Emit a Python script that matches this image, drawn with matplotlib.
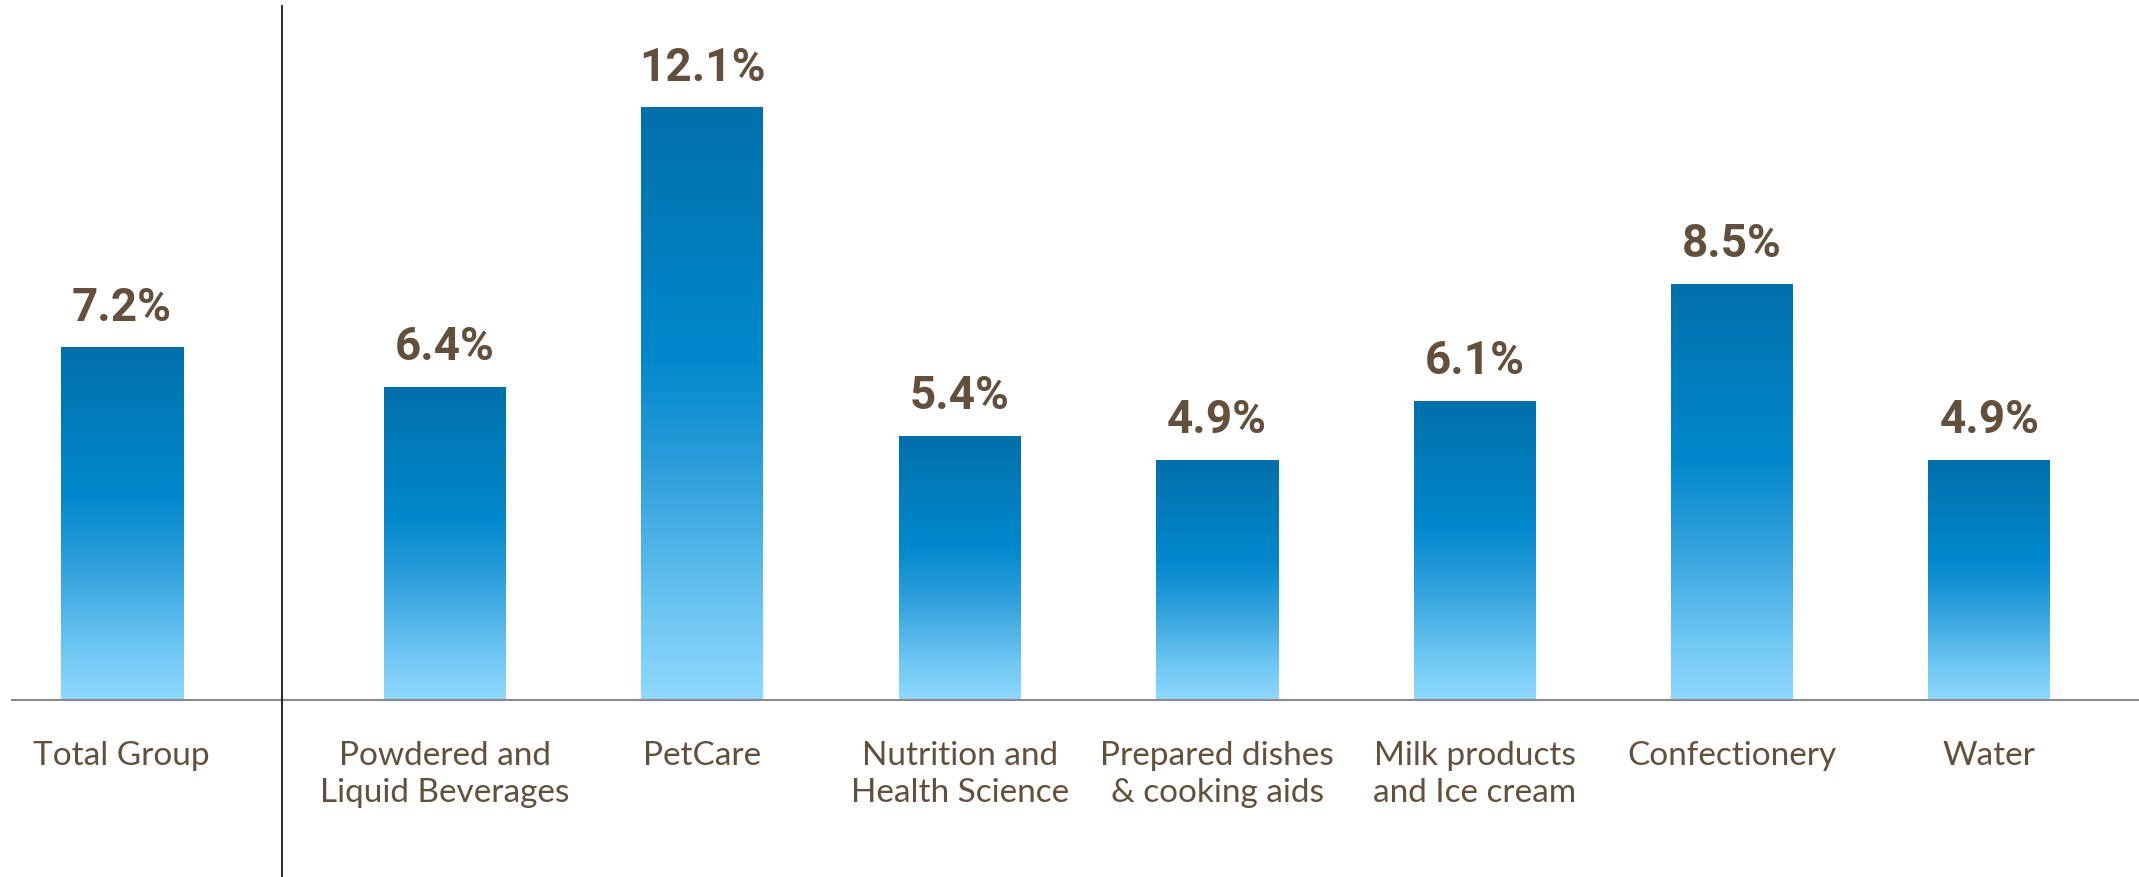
import numpy as np
import matplotlib
matplotlib.use("Agg")
import matplotlib.pyplot as plt
from matplotlib.colors import LinearSegmentedColormap

# ---- data ----
categories = ["Total Group", "Powdered and\nLiquid Beverages", "PetCare",
              "Nutrition and\nHealth Science", "Prepared dishes\n& cooking aids",
              "Milk products\nand Ice cream", "Confectionery", "Water"]
values = [7.2, 6.4, 12.1, 5.4, 4.9, 6.1, 8.5, 4.9]
value_labels = ["7.2%", "6.4%", "12.1%", "5.4%", "4.9%", "6.1%", "8.5%", "4.9%"]

# ---- layout ----
W, H, DPI = 2139, 878, 100
fig = plt.figure(figsize=(W / DPI, H / DPI), dpi=DPI)
ax = fig.add_axes([0, 0, 1, 1])
ax.set_axis_off()

spacing_px = 257.4
px_per_unit = 48.98
base_px = 701
first_px = 444.9
positions = [1 - 323.4 / spacing_px] + list(range(1, 8))
bar_w = 122 / spacing_px

def xpx(p):
    return (p - first_px) / spacing_px + 1

ax.set_xlim(xpx(0), xpx(W))
ax.set_ylim(-(H - base_px) / px_per_unit, base_px / px_per_unit)

text_col = "#63503c"
cmap = LinearSegmentedColormap.from_list(
    "g", [(0.0, "#0070ab"), (0.42, "#0088cc"), (0.6, "#2a9dda"),
          (0.85, "#6cc6f2"), (1.0, "#8fd9ff")])
grad = np.linspace(0, 1, 256).reshape(-1, 1)

bars = ax.bar(positions, values, width=bar_w, color="none", edgecolor="none", zorder=2)
for b, v, lab, cat in zip(bars, values, value_labels, categories):
    x0 = b.get_x()
    im = ax.imshow(grad, cmap=cmap, aspect="auto", extent=(x0, x0 + bar_w, 0, v),
                   origin="upper", zorder=2, interpolation="bilinear")
    im.set_clip_path(b)
    cx = x0 + bar_w / 2
    ax.annotate(lab, (cx, v), xytext=(0, 20), textcoords="offset points",
                ha="center", va="baseline", fontsize=33, fontweight="bold",
                family="Roboto", color=text_col)
    ax.annotate(cat, (cx, 0), xytext=(0, -28.5), textcoords="offset points",
                ha="center", va="top", fontsize=24, family="Lato",
                color=text_col, linespacing=1.32)

# baseline and divider
ax.plot([xpx(11), xpx(W)], [0, 0], color="#8a8a8a", lw=1.5, zorder=3,
        solid_capstyle="butt")
ax.plot([xpx(282), xpx(282)], [-(H - base_px) / px_per_unit, (base_px - 7) / px_per_unit],
        color="#2a2a2a", lw=1.4, zorder=3)

fig.savefig("out.png", dpi=DPI, facecolor="white")
